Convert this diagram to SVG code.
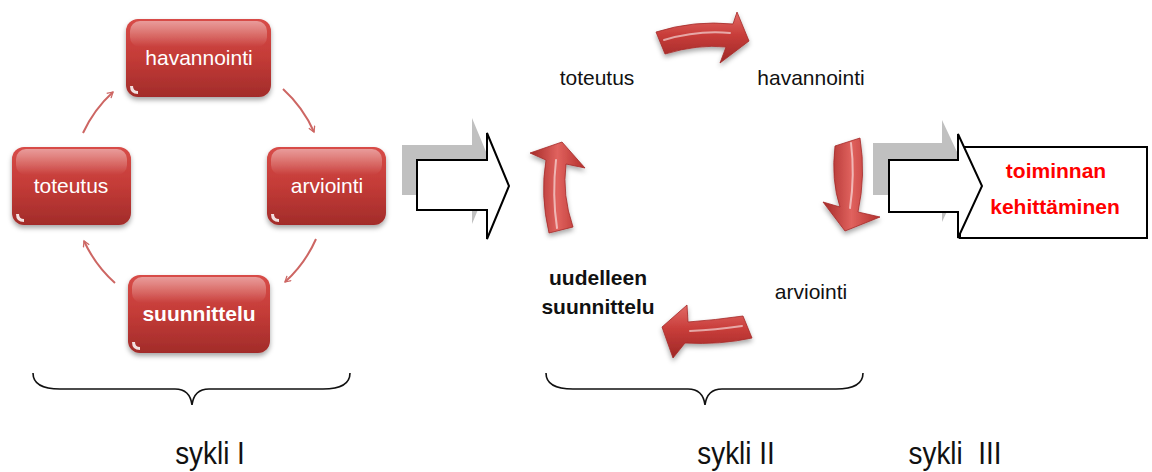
<svg xmlns="http://www.w3.org/2000/svg" width="1152" height="472" viewBox="0 0 1152 472">
<defs>
  <linearGradient id="boxg" x1="0" y1="0" x2="0" y2="1">
    <stop offset="0" stop-color="#d84c48"/>
    <stop offset="0.5" stop-color="#c33b37"/>
    <stop offset="1" stop-color="#a22c2a"/>
  </linearGradient>
  <linearGradient id="gloss" x1="0" y1="0" x2="0" y2="1">
    <stop offset="0" stop-color="#ffffff" stop-opacity="0.45"/>
    <stop offset="1" stop-color="#ffffff" stop-opacity="0"/>
  </linearGradient>
  <linearGradient id="arrV" x1="0" y1="0" x2="0" y2="1">
    <stop offset="0" stop-color="#e26a66"/>
    <stop offset="0.45" stop-color="#c83d3a"/>
    <stop offset="1" stop-color="#9e2826"/>
  </linearGradient>
  <linearGradient id="arrH" x1="0" y1="0" x2="1" y2="0">
    <stop offset="0" stop-color="#a52a28"/>
    <stop offset="0.5" stop-color="#e0625e"/>
    <stop offset="1" stop-color="#b3302d"/>
  </linearGradient>
  <filter id="sh" x="-20%" y="-20%" width="140%" height="150%">
    <feDropShadow dx="0" dy="3" stdDeviation="2.5" flood-color="#000" flood-opacity="0.35"/>
  </filter>
  <marker id="thin" viewBox="0 0 10 10" refX="8" refY="5" markerWidth="8" markerHeight="8" orient="auto-start-reverse" markerUnits="userSpaceOnUse">
    <path d="M1,1 L8,5 L1,9" fill="none" stroke="#cd6663" stroke-width="1.6"/>
  </marker>
  <style>
    .box{fill:url(#boxg);filter:url(#sh)}
    .gl{fill:url(#gloss)}
    .nt{fill:#fff;opacity:.85}
    .bt{font-family:"Liberation Sans",Arial,sans-serif;font-size:21px;fill:#fff;text-anchor:middle}
    .t{font-family:"Liberation Sans",Arial,sans-serif;font-size:21px;fill:#111;text-anchor:middle}
    .b{font-weight:bold}
    .red{fill:#ff0000;font-weight:bold}
    .cyc{font-family:"Liberation Sans",Arial,sans-serif;font-size:32px;fill:#111;text-anchor:middle}
    .conn{fill:none;stroke:#cd6663;stroke-width:2;marker-end:url(#thin)}
    .brace{fill:none;stroke:#111;stroke-width:1.6}
    .shade{fill:#c0c0c0}
    .hollow{fill:#fff;stroke:#000;stroke-width:2}
    .a3{fill:url(#arrV);stroke:#a52a28;stroke-width:0.8;filter:url(#sh)}
    .a3h{fill:url(#arrH);stroke:#a52a28;stroke-width:0.8;filter:url(#sh)}
    .hl{fill:none;stroke:#fff;stroke-opacity:.55;stroke-width:2;stroke-linecap:round}
  </style>
</defs>

<g id="connectors">
  <path class="conn" d="M283,89 A128,128 0 0 1 314,132"/>
  <path class="conn" d="M316,239 A128,128 0 0 1 285,282"/>
  <path class="conn" d="M115,283 A128,128 0 0 1 84,241"/>
  <path class="conn" d="M83,133 A128,128 0 0 1 113,92"/>
</g>

<g id="node-havannointi">
  <rect class="box" x="126" y="19" width="145" height="78" rx="12"/>
  <rect class="gl" x="130" y="21" width="137" height="26" rx="10"/>
  <path class="nt" d="M130,86 q0,8 8,8 l0,-3 q-5,0 -5,-5 z"/>
  <text class="bt" x="199" y="65">havannointi</text>
</g>
<g id="node-toteutus">
  <rect class="box" x="12" y="147" width="119" height="78" rx="12"/>
  <rect class="gl" x="16" y="149" width="111" height="26" rx="10"/>
  <path class="nt" d="M16,214 q0,8 8,8 l0,-3 q-5,0 -5,-5 z"/>
  <text class="bt" x="71" y="193">toteutus</text>
</g>
<g id="node-arviointi">
  <rect class="box" x="267" y="147" width="119" height="78" rx="12"/>
  <rect class="gl" x="271" y="149" width="111" height="26" rx="10"/>
  <path class="nt" d="M271,214 q0,8 8,8 l0,-3 q-5,0 -5,-5 z"/>
  <text class="bt" x="327" y="193">arviointi</text>
</g>
<g id="node-suunnittelu">
  <rect class="box" x="128" y="275" width="142" height="78" rx="12"/>
  <rect class="gl" x="132" y="277" width="134" height="26" rx="10"/>
  <path class="nt" d="M132,342 q0,8 8,8 l0,-3 q-5,0 -5,-5 z"/>
  <text class="bt b" x="199" y="321">suunnittelu</text>
</g>

<g id="arrow-1">
  <path class="shade" d="M402,145 L472,145 L472,118 L494,171 L472,224 L472,195 L402,195 Z"/>
  <path class="hollow" d="M417,160 L487,160 L487,133 L509,186 L487,239 L487,210 L417,210 Z"/>
</g>

<g id="cycle2">
  <g id="c2-toteutus"><text class="t" x="597" y="85">toteutus</text></g>
  <g id="c2-havannointi"><text class="t" x="811" y="85">havannointi</text></g>
  <g id="c2-arviointi"><text class="t" x="811" y="299">arviointi</text></g>
  <g id="c2-suunnittelu">
    <text class="t b" x="598" y="285">uudelleen</text>
    <text class="t b" x="598" y="314">suunnittelu</text>
  </g>
  <g id="c2-arrows">
    <path class="a3" d="M656,32 Q694,20 733,24 L737,12 L749,41 L720,63 L726,47 Q698,44 665,54 Z"/>
    <path class="hl" d="M664,40 Q698,30 730,33"/>
    <path class="a3h" d="M835,146 Q831,180 840,207 L823,202 L845,231 L880,217 L858,212 Q866,175 860,138 Z"/>
    <path class="hl" d="M851,143 Q855,175 850,208"/>
    <path class="a3" d="M743,316 Q715,320 688,322 L687,305 L662,327 L673,358 L685,343 Q720,345 752,338 Z"/>
    <path class="hl" d="M742,326 Q715,330 690,331"/>
    <path class="a3h" d="M549,233 Q540,195 546,160 L530,153 L562,142 L585,168 L566,164 Q562,195 573,227 Z"/>
    <path class="hl" d="M557,228 Q552,195 556,160"/>
  </g>
</g>

<g id="result">
  <rect x="960" y="147" width="187" height="91" fill="#fff" stroke="#000" stroke-width="2"/>
  <path class="shade" d="M873,143 L942,143 L942,120 L966,171 L942,222 L942,195 L873,195 Z"/>
  <path class="hollow" d="M889,160 L958,160 L958,134 L982,186 L958,238 L958,212 L889,212 Z"/>
  <text class="t red" x="1056" y="178">toiminnan</text>
  <text class="t red" x="1055" y="214">kehittäminen</text>
</g>

<g id="braces">
  <path class="brace" d="M33,373 Q33,389 60,389 L175,389 Q190,389 192,405 Q194,389 209,389 L323,389 Q350,389 350,373"/>
  <path class="brace" d="M546,373 Q546,389 573,389 L688,389 Q703,389 705,405 Q707,389 722,389 L836,389 Q863,389 863,373"/>
</g>

<g id="labels">
  <text class="cyc" transform="translate(210,464) scale(0.87,1)">sykli I</text>
  <text class="cyc" transform="translate(736,464) scale(0.87,1)">sykli II</text>
  <text class="cyc" transform="translate(955,464) scale(0.87,1)" xml:space="preserve">sykli  III</text>
</g>
</svg>
